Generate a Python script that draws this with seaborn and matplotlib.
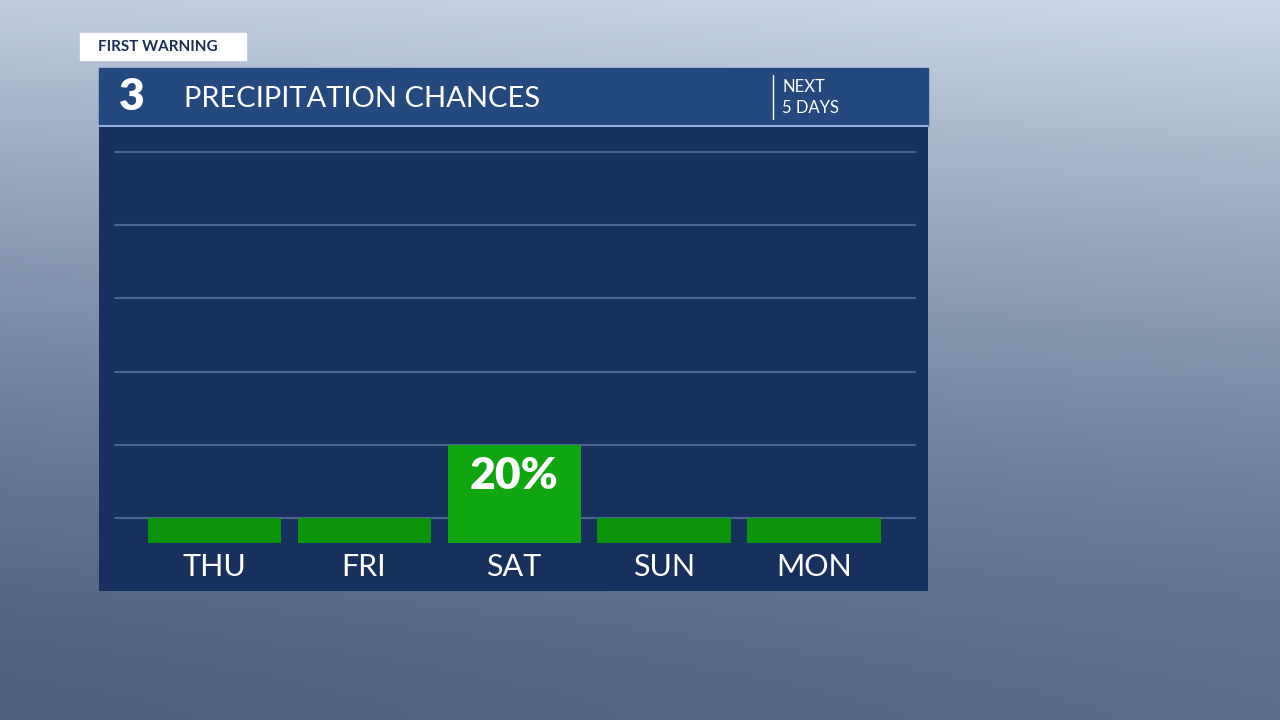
import numpy as np
import matplotlib
matplotlib.use("Agg")
import matplotlib.pyplot as plt
import seaborn as sns
import pandas as pd
from matplotlib.patches import Rectangle

days = ["THU", "FRI", "SAT", "SUN", "MON"]
chances = [0, 0, 20, 0, 0]
labels = ["", "", "20%", "", ""]
grid_levels = [0, 20, 40, 60, 80, 100]
STUB = 6.8

sns.set_theme(style="white")
plt.rcParams['font.family'] = ['Lato', 'DejaVu Sans']

fig = plt.figure(figsize=(12.8, 7.2), dpi=100)
bg = fig.add_axes([0, 0, 1, 1])
yy, xx = np.mgrid[0:1:200j, 0:1:200j]
img = np.dstack([0.30 + 0.45 * (1 - yy) ** 1.5 + 0.05 * xx,
                 0.38 + 0.42 * (1 - yy) ** 1.5 + 0.05 * xx,
                 0.50 + 0.38 * (1 - yy) ** 1.5 + 0.04 * xx])
img = np.clip(img, 0, 1)
bg.imshow(img, extent=[0, 1, 0, 1], aspect='auto', origin='upper')
bg.set_axis_off()

bg.add_patch(Rectangle((80/1280, 1-60/720), 166/1280, 27/720, color='white', transform=fig.transFigure))
fig.text(98/1280, 1-47/720, "FIRST WARNING", color='#1b2f55', fontsize=11, fontweight='bold', va='center')
bg.add_patch(Rectangle((99/1280, 1-126/720), 829/1280, 58/720, color='#24497e', transform=fig.transFigure))
fig.text(119/1280, 1-97/720, "3", color='white', fontsize=32, fontweight='heavy', va='center')
fig.text(184/1280, 1-99/720, "PRECIPITATION CHANCES", color='white', fontsize=21, va='center')
fig.add_artist(plt.Line2D([773/1280]*2, [1-75/720, 1-119/720], color='white', lw=1))
fig.text(782/1280, 1-87/720, "NEXT", color='white', fontsize=12, va='center')
fig.text(782/1280, 1-108/720, "5 DAYS", color='white', fontsize=12, va='center')
fig.add_artist(plt.Line2D([99/1280, 928/1280], [1-126/720]*2, color='#8fb0d8', lw=1.5))

ax = fig.add_axes([99/1280, 1-591/720, 829/1280, 465/720])
ax.set_facecolor('#17305e')
df = pd.DataFrame({"day": days, "h": [c + STUB for c in chances]})
colors = ['#0fa60f' if c > 0 else '#0b950b' for c in chances]
sns.barplot(data=df, x="day", y="h", hue="day", palette=colors, legend=False,
            width=0.887, ax=ax, saturation=1, zorder=3, edgecolor='none', linewidth=0)
for g in grid_levels:
    ax.plot([-0.66, 4.67], [g + STUB]*2, color='#4d6690', lw=1.5, zorder=1)
for i, (d, lab) in enumerate(zip(days, labels)):
    ax.text(i, -6.5, d, color='white', fontsize=22, ha='center', va='center')
    if lab:
        ax.text(i, chances[i] + STUB - 8.5, lab, color='white', fontsize=32,
                fontweight='heavy', ha='center', va='center', zorder=4)
ax.set_xlim(-0.767, 4.76)
ax.set_ylim(-13.1, 113.8)
ax.set_xticks([]); ax.set_yticks([])
ax.set_xlabel(""); ax.set_ylabel("")
for s in ax.spines.values():
    s.set_visible(False)
fig.savefig("out.png", dpi=100)
